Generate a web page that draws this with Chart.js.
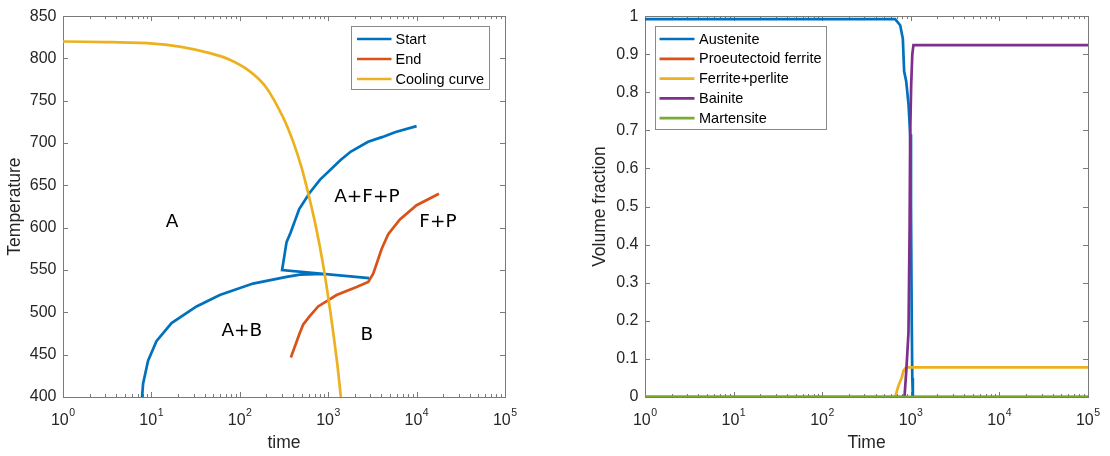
<!DOCTYPE html>
<html>
<head>
<meta charset="utf-8">
<script src="https://cdn.jsdelivr.net/npm/chart.js@4.4.1/dist/chart.umd.min.js"></script>
<style>
  html, body { margin: 0; padding: 0; background: #fff; }
  #wrap { position: relative; width: 1110px; height: 456px; }
  .box { position: absolute; top: 0; width: 555px; height: 456px; }
</style>
</head>
<body>
<div id="wrap">
  <div class="box" style="left:0"><canvas id="ttt" width="555" height="456"></canvas></div>
  <div class="box" style="left:555px"><canvas id="frac" width="555" height="456"></canvas></div>
</div>
<script>
// ---- left plot: transformation diagram ----
const startTime = [10000, 5800, 4055, 2830, 1806, 1380, 805, 615, 470, 375, 338, 301,
                   2911, 900, 478, 338, 141, 59.4, 32.4, 16.9, 11.4, 9.17, 8.05, 7.84];
const startTemp = [720, 713, 707, 701.5, 690, 680, 656.5, 641, 622, 594, 583, 550,
                   540.5, 545.3, 544.6, 542, 534, 520.5, 507, 487.4, 466, 442.8, 415.6, 400];

const endTime = [378, 470, 521, 615, 770, 1244, 2094, 2837, 3230, 3530, 4020, 4776, 6476, 10000, 17900];
const endTemp = [446.6, 473.9, 485.6, 495.2, 507, 520.5, 530, 536, 545.7, 557.4, 574.9, 592.4, 609.8, 626.6, 640.2];

const coolTime = [1, 3, 9.6, 20.9, 45.8, 77, 130, 200, 309, 400, 500, 600, 700, 800, 900, 1000, 1100, 1264, 1390];
const coolTemp = [820, 819.3, 817.8, 813.9, 806.2, 798.4, 784.7, 765.4, 730.4, 702, 671, 639, 609, 579, 549, 518, 488, 440, 400];

const regionNames = ["A", "A+F+P", "F+P", "A+B", "B"];
const regionTime = [17.1, 2740, 17450, 105.5, 2740];
const regionTemp = [607, 636.3, 606, 478, 473.4];

// ---- right plot: phase fractions ----
const austTime = [1, 666, 759, 813, 841, 887, 942, 984, 1005, 1025, 1040, 1055, 100000];
const austFrac = [0.992, 0.992, 0.976, 0.941, 0.855, 0.829, 0.769, 0.69, 0.5, 0.2, 0.05, 0, 0];
const pfTime = [1, 100000];
const pfFrac = [0, 0];
const fpTime = [1, 666, 726, 793, 827, 887, 100000];
const fpFrac = [0, 0, 0.03, 0.052, 0.069, 0.078, 0.078];
const bainTime = [1, 849, 890, 942, 970, 984, 1010, 1040, 1072, 100000];
const bainFrac = [0, 0, 0.07, 0.17, 0.45, 0.69, 0.82, 0.9, 0.924, 0.924];
const martTime = [1, 100000];
const martFrac = [0, 0];

const decades = [0, 1, 2, 3, 4, 5];
const tempTicks = [400, 450, 500, 550, 600, 650, 700, 750, 800, 850];
const fracTicks = [0, 0.1, 0.2, 0.3, 0.4, 0.5, 0.6, 0.7, 0.8, 0.9, 1];

const SANS = '"Liberation Sans", Arial, Helvetica, sans-serif';
const TXT = '#262626';
const AXIS = '#7a7a7a';

function pts(xs, ys) {
  return xs.map((x, i) => ({ x: x, y: ys[i] }));
}

function line(label, xs, ys, color, order, tension) {
  return {
    label: label,
    data: pts(xs, ys),
    borderColor: color,
    backgroundColor: color,
    borderWidth: 2.7,
    pointRadius: 0,
    showLine: true,
    tension: tension || 0,
    order: order,
  };
}

// MATLAB-like box, inner ticks and 10^n labels
const matlabAxes = {
  id: "matlabAxes",
  beforeDatasetsDraw(chart) {
    const { ctx, chartArea: a, scales: { x, y } } = chart;
    ctx.save();
    ctx.strokeStyle = AXIS;
    ctx.lineWidth = 1;
    ctx.beginPath();
    decades.forEach((d) => {
      for (let m = 1; m < 10; m++) {
        const v = m * Math.pow(10, d);
        if (v > x.max) break;
        const px = Math.round(x.getPixelForValue(v)) + 0.5;
        const len = m === 1 ? 5 : 3;
        ctx.moveTo(px, a.bottom);
        ctx.lineTo(px, a.bottom - len);
        ctx.moveTo(px, a.top);
        ctx.lineTo(px, a.top + len);
      }
    });
    y.ticks.forEach((t) => {
      const py = Math.round(y.getPixelForValue(t.value)) + 0.5;
      ctx.moveTo(a.left, py);
      ctx.lineTo(a.left + 5, py);
      ctx.moveTo(a.right, py);
      ctx.lineTo(a.right - 5, py);
    });
    ctx.stroke();
    ctx.strokeRect(Math.round(a.left) + 0.5, Math.round(a.top) + 0.5,
                   Math.round(a.right - a.left), Math.round(a.bottom - a.top));

    // x tick labels 10^n
    ctx.fillStyle = TXT;
    ctx.textBaseline = "alphabetic";
    ctx.textAlign = "left";
    decades.forEach((d) => {
      const px = x.getPixelForValue(Math.pow(10, d));
      ctx.font = "16px " + SANS;
      const w1 = ctx.measureText("10").width;
      ctx.font = "10.5px " + SANS;
      const w2 = ctx.measureText(String(d)).width;
      const x0 = px - (w1 + w2 + 0.5) / 2;
      ctx.font = "16px " + SANS;
      ctx.fillText("10", x0, a.bottom + 28);
      ctx.font = "10.5px " + SANS;
      ctx.fillText(String(d), x0 + w1 + 0.5, a.bottom + 18.8);
    });
    ctx.restore();
  },
  afterDatasetsDraw(chart, args, opts) {
    const { ctx, scales: { x, y } } = chart;
    ctx.save();
    if (opts.regions) {
      ctx.fillStyle = "#000";
      ctx.font = "18.5px 'DejaVu Sans', Verdana, sans-serif";
      ctx.textAlign = "center";
      ctx.textBaseline = "middle";
      opts.regions.names.forEach((n, i) => {
        ctx.fillText(n, x.getPixelForValue(opts.regions.time[i]), y.getPixelForValue(opts.regions.temp[i]));
      });
    }
    const L = opts.legend;
    if (L) {
      ctx.fillStyle = "#fff";
      ctx.fillRect(L.x, L.y, L.w, L.h);
      ctx.strokeStyle = "#8a8a8a";
      ctx.lineWidth = 1;
      ctx.strokeRect(L.x + 0.5, L.y + 0.5, L.w, L.h);
      ctx.font = "14.5px " + SANS;
      ctx.textAlign = "left";
      ctx.textBaseline = "middle";
      chart.data.datasets.forEach((ds, i) => {
        const yy = L.row0 + i * L.gap;
        ctx.strokeStyle = ds.borderColor;
        ctx.lineWidth = 2.7;
        ctx.beginPath();
        ctx.moveTo(L.line0, yy);
        ctx.lineTo(L.line1, yy);
        ctx.stroke();
        ctx.fillStyle = "#000";
        ctx.fillText(ds.label, L.text, yy + 0.5);
      });
    }
    ctx.restore();
  },
};

function axisTitle(text, pad) {
  return { display: true, text: text, color: TXT, font: { family: SANS, size: 17.5 }, padding: pad };
}

function makeOptions(cfg) {
  return {
    responsive: false,
    animation: false,
    devicePixelRatio: 1,
    layout: { padding: { left: cfg.padLeft, right: cfg.padRight, top: 11, bottom: 0 } },
    plugins: {
      legend: { display: false },
      tooltip: { enabled: false },
      matlabAxes: { legend: cfg.legend, regions: cfg.regions },
    },
    scales: {
      x: {
        type: "logarithmic",
        min: 1,
        max: 100000,
        grid: { display: false, drawTicks: false },
        border: { display: false },
        ticks: { display: false },
        title: axisTitle(cfg.xTitle, { top: 0, bottom: 2.5 }),
        afterFit(s) { s.height = 59; },
      },
      y: {
        min: cfg.yTicks[0],
        max: cfg.yTicks[cfg.yTicks.length - 1],
        afterBuildTicks(s) { s.ticks = cfg.yTicks.map((v) => ({ value: v })); },
        grid: { display: false, drawTicks: false },
        border: { display: false },
        ticks: {
          color: TXT,
          font: { family: SANS, size: 16 },
          padding: 6.5,
          callback: (v) => String(+v.toFixed(2)),
        },
        title: axisTitle(cfg.yTitle, { top: cfg.yTitlePad, bottom: 0 }),
        afterFit(s) { s.width = cfg.yWidth; },
      },
    },
  };
}

new Chart(document.getElementById("ttt"), {
  type: "scatter",
  data: {
    datasets: [
      line("Start", startTime, startTemp, "#0072BD", 0),
      line("End", endTime, endTemp, "#D95319", -1),
      line("Cooling curve", coolTime, coolTemp, "#EDB120", -2, 0.25),
    ],
  },
  options: makeOptions({
    padLeft: 0, padRight: 50, yWidth: 63, yTitlePad: 5,
    xTitle: "time", yTitle: "Temperature", yTicks: tempTicks,
    legend: { x: 351, y: 26, w: 138, h: 63, row0: 39, gap: 20, line0: 357, line1: 391.5, text: 395.5 },
    regions: { names: regionNames, time: regionTime, temp: regionTemp },
  }),
  plugins: [matlabAxes],
});

new Chart(document.getElementById("frac"), {
  type: "scatter",
  data: {
    datasets: [
      line("Austenite", austTime, austFrac, "#0072BD", 0),
      line("Proeutectoid ferrite", pfTime, pfFrac, "#D95319", -1),
      line("Ferrite+perlite", fpTime, fpFrac, "#EDB120", -2),
      line("Bainite", bainTime, bainFrac, "#7E2F8E", -3),
      line("Martensite", martTime, martFrac, "#77AC30", -4),
    ],
  },
  options: makeOptions({
    padLeft: 30, padRight: 22, yWidth: 60, yTitlePad: 4.5,
    xTitle: "Time", yTitle: "Volume fraction", yTicks: fracTicks,
    legend: { x: 100, y: 26, w: 171, h: 103, row0: 39, gap: 19.8, line0: 104.5, line1: 139.5, text: 144 },
  }),
  plugins: [matlabAxes],
});
</script>
</body>
</html>
